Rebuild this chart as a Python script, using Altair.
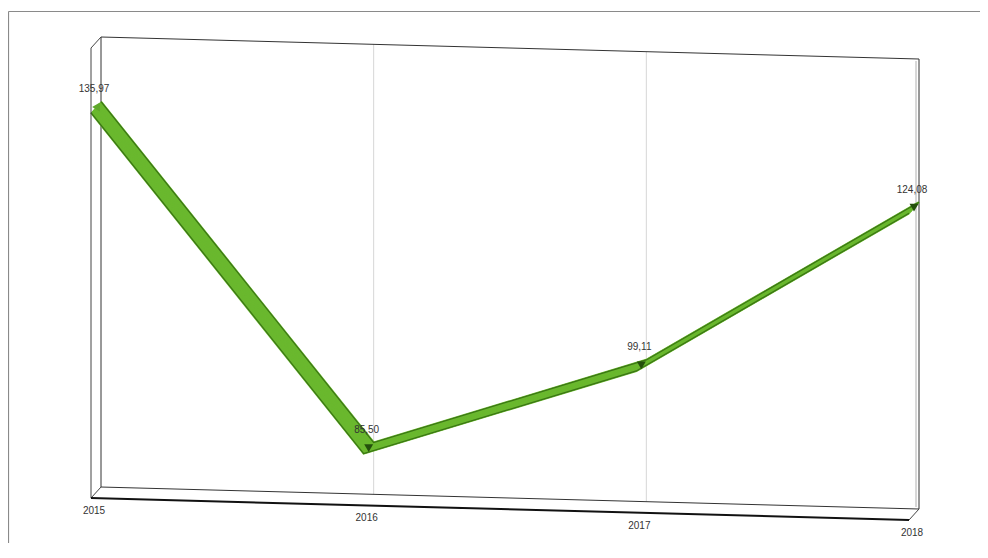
import altair as alt
import pandas as pd
import numpy as np

# ---- data ----
years = [2015, 2016, 2017, 2018]
values = [135.97, 85.50, 99.11, 124.08]
value_labels = ["135,97", "85,50", "99,11", "124,08"]
year_labels = ["2015", "2016", "2017", "2018"]
grid_years = [2016, 2017]

# ---- layout (pixel anchors of the pseudo-3D box) ----
W, H = 972, 535
OFF = 8
PPY = (914 - 96) / 3          # px per year
PPU = 6.61                    # px per value unit
X0 = 96 - OFF
Y_REF_V = 85.5
Y_REF_PX = 440.7 - OFF
x_dom = [2015 - X0 / PPY, 2015 + (W - X0) / PPY]
y_dom = [Y_REF_V - (H - Y_REF_PX) / PPU, Y_REF_V + Y_REF_PX / PPU]
SKEW = 7.33 / PPU             # downward slant per year, in value units
DX = 5 / PPY                  # half depth, x
DY = 5.5 / PPU                # half depth, y
YMIN, YMAX = 77.66, 145.74
Y0, Y1 = years[0], years[-1]


def px(year, d):
    return year + d * DX


def py(year, v, d):
    return v - SKEW * (year - Y0) + d * DY


xs = alt.Scale(domain=x_dom, nice=False, zero=False)
ys = alt.Scale(domain=y_dom, nice=False, zero=False)
X = lambda f="x": alt.X(f"{f}:Q", scale=xs, axis=None)
Y = lambda f="y": alt.Y(f"{f}:Q", scale=ys, axis=None)

# ribbon: several lines at different depths
rib = []
for d in np.linspace(-1, 1, 13):
    for yr, v in zip(years, values):
        rib.append({"x": px(yr, d), "y": py(yr, v, d), "d": round(float(d), 3)})
rib = pd.DataFrame(rib)

edges = []
for d in (-1, 1):
    for yr, v in zip(years, values):
        edges.append({"x": px(yr, d), "y": py(yr, v, d), "d": d})
edges = pd.DataFrame(edges)


def seg(y1, v1, d1, y2, v2, d2):
    return {"x": px(y1, d1), "y": py(y1, v1, d1), "x2": px(y2, d2), "y2": py(y2, v2, d2)}


frame_back = pd.DataFrame([
    seg(Y0, YMAX, 1, Y1, YMAX, 1),
    seg(Y0, YMIN, 1, Y1, YMIN, 1),
    seg(Y0, YMIN, 1, Y0, YMAX, 1),
    seg(Y1, YMIN, 1, Y1, YMAX, 1),
])
frame_front = pd.DataFrame([
    seg(Y0, YMIN, -1, Y0, YMAX, -1),
    seg(Y0, YMAX, -1, Y0, YMAX, 1),
    seg(Y0, YMIN, -1, Y0, YMIN, 1),
    seg(Y1, YMIN, -1, Y1, YMIN, 1),
])
floor = pd.DataFrame([seg(Y0, YMIN, -1, Y1, YMIN, -1)])
grid = pd.DataFrame([seg(g, YMIN, 1, g, YMAX, 1) for g in grid_years])
right_shade = pd.DataFrame([{"x": px(Y1, 1) - 3 / PPY, "y": py(Y1, YMIN, 1) + 0.3,
                             "x2": px(Y1, 1) - 3 / PPY, "y2": py(Y1, YMAX, 1) - 0.3}])

pts = pd.DataFrame({
    "x": [px(yr, 0) for yr in years],
    "y": [py(yr, v, 0) for yr, v in zip(years, values)],
    "label": value_labels,
})
ylab = pd.DataFrame({
    "x": [px(yr, 0) for yr in years],
    "y": [py(yr, YMIN, -1) for yr in years],
    "label": year_labels,
})


def rules(df, color, width):
    return alt.Chart(df).mark_rule(color=color, strokeWidth=width).encode(
        x=X(), y=Y(), x2="x2:Q", y2="y2:Q")


border = alt.Chart(pd.DataFrame({"a": [0]})).mark_rule(color="#8a8a8a", strokeWidth=1.2)
border_top = border.encode(x=alt.value(0.5), x2=alt.value(W), y=alt.value(3.5))
border_left = border.encode(x=alt.value(0.5), y=alt.value(3.5), y2=alt.value(H))

ribbon = alt.Chart(rib).mark_line(color="#6ab82e", strokeWidth=2.2).encode(
    x=X(), y=Y(), detail="d:N")
ribbon_edges = alt.Chart(edges).mark_line(color="#3a7415", strokeWidth=1.2).encode(
    x=X(), y=Y(), detail="d:N")
markers = alt.Chart(pts.iloc[1:]).mark_point(
    shape="triangle-down", filled=True, color="#24500c", size=80, opacity=1).encode(x=X(), y=Y())
first_marker = alt.Chart(pts.iloc[:1]).mark_point(
    shape="triangle-left", filled=True, color="#5ea82a", size=80, opacity=1).encode(x=X(), y=Y())

val_text = alt.Chart(pts).mark_text(
    font="Liberation Sans", fontSize=10, color="#333333", dy=-18, dx=-2).encode(
    x=X(), y=Y(), text="label:N")
yr_text = alt.Chart(ylab).mark_text(
    font="Liberation Sans", fontSize=10, color="#333333", dy=13, dx=-2).encode(
    x=X(), y=Y(), text="label:N")

chart = alt.layer(
    border_top, border_left,
    rules(grid, "#d6d6d6", 1),
    rules(right_shade, "#b0b0b0", 1),
    rules(frame_back, "#333333", 1),
    ribbon, ribbon_edges, markers, first_marker,
    rules(frame_front, "#444444", 1),
    rules(floor, "#111111", 2),
    val_text, yr_text,
).properties(
    width=W, height=H, autosize=alt.AutoSizeParams(type="none"), padding=0,
).configure_view(stroke=None)

chart.save("out.html", embed_options={"renderer": "svg", "actions": False})
